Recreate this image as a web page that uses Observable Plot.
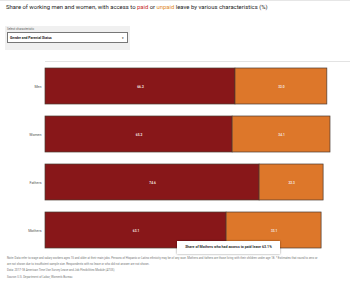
<!DOCTYPE html>
<html><head><meta charset="utf-8">
<script src="https://cdn.jsdelivr.net/npm/d3@7"></script>
<script src="https://cdn.jsdelivr.net/npm/@observablehq/plot@0.6"></script>
<style>
body{margin:0;width:350px;height:292px;background:#fff;font-family:Roboto,"Noto Sans",sans-serif;position:relative;overflow:hidden}
.abs{position:absolute}
#topline{left:0;top:0;width:350px;height:1px;background:#e6e6e6}
#title{left:6px;top:4px;font-family:"Liberation Sans Narrow","Roboto",sans-serif;font-size:5.9px;color:#222;font-weight:normal;white-space:nowrap}
#panel{left:5px;top:26px;width:125px;height:24px;background:#f0f0f0}
#sellab{left:7px;top:27px;font-size:3px;color:#666;white-space:nowrap}
#sel{left:7px;top:32px;width:121px;height:11px;background:#fff;border:0.6px solid #777;box-sizing:border-box;font-size:3.4px;font-weight:bold;color:#222;line-height:10px;padding-left:2px;white-space:nowrap}
#sel span{position:absolute;right:3px;top:0;font-size:3px}
#grid{left:45px;top:61px;width:305px;height:1px;background:#e3e3e3}
#chart{left:0;top:50px}
#tip{left:177px;top:241px;width:103px;height:13px;background:#fff;box-shadow:0 0 2px rgba(0,0,0,.45);font-size:3.6px;font-weight:bold;color:#333;line-height:13px;text-align:center;white-space:nowrap}
#notes{left:7px;top:255px;width:340px;font-size:2.9px;color:#777;line-height:6.2px}
</style></head>
<body>
<div id="topline" class="abs"></div>
<div id="title" class="abs">Share of working men and women, with access to <span style="color:#c62828">paid</span> or <span style="color:#e08a2c">unpaid</span> leave by various characteristics (%)</div>
<div id="panel" class="abs"></div>
<div id="sellab" class="abs">Select characteristic</div>
<div id="sel" class="abs">Gender and Parental Status<span>&#9662;</span></div>
<div id="grid" class="abs"></div>
<div id="chart" class="abs"></div>
<div id="tip" class="abs"></div>
<div id="notes" class="abs">Note: Data refer to wage and salary workers ages 15 and older at their main jobs. Persons of Hispanic or Latino ethnicity may be of any race. Mothers and fathers are those living with their children under age 18. * Estimates that round to zero or<br>are not shown due to insufficient sample size. Respondents with no leave or who did not answer are not shown.<br>Data: 2017-18 American Time Use Survey Leave and Job Flexibilities Module (ATUS)<br>Source: U.S. Department of Labor, Women's Bureau</div>
<script>
const categories = ["Men", "Women", "Fathers", "Mothers"];
const paid = [66.2, 65.2, 74.6, 63.1];
const unpaid = [32.0, 34.1, 22.3, 33.1];

const rows = [];
categories.forEach((c, i) => {
  rows.push({cat: c, type: "paid", value: paid[i]});
  rows.push({cat: c, type: "unpaid", value: unpaid[i]});
});
const colors = {paid: "#881719", unpaid: "#dd772a"};

const plot = Plot.plot({
  width: 350,
  height: 210,
  marginLeft: 45,
  marginRight: 18,
  marginTop: 11.2,
  marginBottom: 4,
  x: {domain: [0, 100], axis: null},
  y: {domain: categories, paddingInner: 0.24, paddingOuter: 0.12, label: null, tickSize: 0, tickPadding: 4},
  color: {domain: ["paid", "unpaid"], range: [colors.paid, colors.unpaid]},
  style: {fontFamily: "Roboto, sans-serif", fontSize: "3.6px", color: "#555"},
  marks: [
    Plot.barX(rows, Plot.stackX({x: "value", y: "cat", fill: "type", order: ["paid", "unpaid"], stroke: "#4b3a30", strokeWidth: 0.7})),
    Plot.text(rows, Plot.stackX({x: "value", y: "cat", z: "type", order: ["paid", "unpaid"], text: d => d.value.toFixed(1), fill: "#f3e6e0", fontSize: 3.2, fontWeight: "bold"})),
    Plot.axisY({tickSize: 0, tickPadding: 4, fontSize: 3.6, fill: "#555"})
  ]
});
document.getElementById("chart").appendChild(plot);
const mi = categories.indexOf("Mothers");
document.getElementById("tip").textContent = "Share of Mothers who had access to paid leave " + paid[mi].toFixed(1) + "%";
</script>
</body></html>
